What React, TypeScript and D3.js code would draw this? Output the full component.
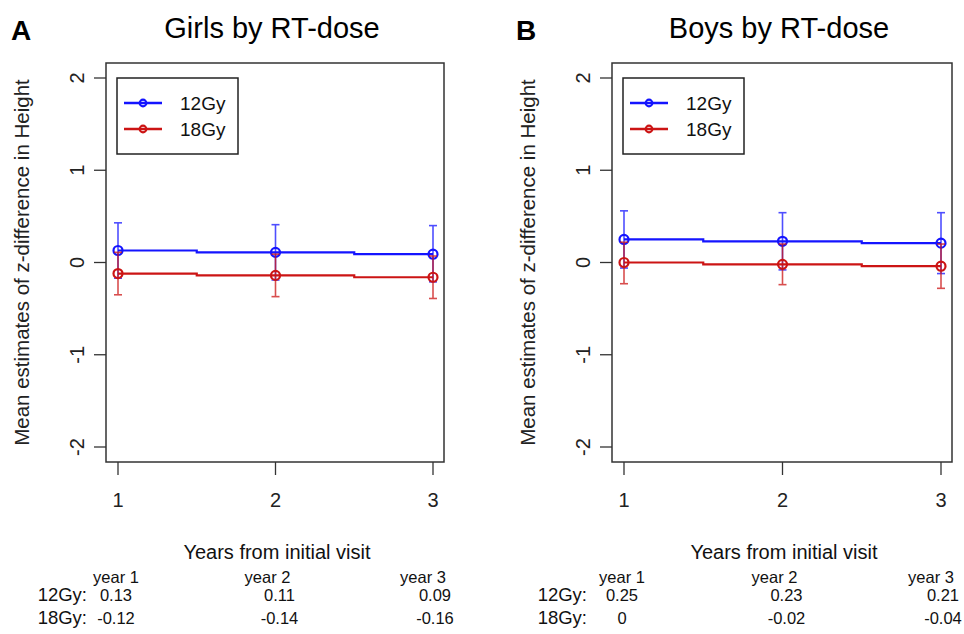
import React from "react";
import * as d3 from "d3";

// ---- data ----
const years = [1, 2, 3];
const yearLabels = ["year 1", "year 2", "year 3"];
const yTicks = [-2, -1, 0, 1, 2];
const seriesNames = ["12Gy", "18Gy"];

const girls12 = [0.13, 0.11, 0.09];
const girls12Lo = [-0.17, -0.19, -0.21];
const girls12Hi = [0.43, 0.41, 0.4];
const girls18 = [-0.12, -0.14, -0.16];
const girls18Lo = [-0.35, -0.37, -0.39];
const girls18Hi = [0.11, 0.09, 0.07];

const boys12 = [0.25, 0.23, 0.21];
const boys12Lo = [-0.06, -0.08, -0.12];
const boys12Hi = [0.56, 0.54, 0.54];
const boys18 = [0, -0.02, -0.04];
const boys18Lo = [-0.23, -0.24, -0.28];
const boys18Hi = [0.22, 0.2, 0.2];

const girlsTable12 = ["0.13", "0.11", "0.09"];
const girlsTable18 = ["-0.12", "-0.14", "-0.16"];
const boysTable12 = ["0.25", "0.23", "0.21"];
const boysTable18 = ["0", "-0.02", "-0.04"];

const BLUE = "#1414ff";
const RED = "#cc1414";
const FONT = "'Liberation Sans', Arial, sans-serif";

type Series = { name: string; color: string; mean: number[]; lo: number[]; hi: number[] };

function Panel(props: {
  ox: number;
  letter: string;
  title: string;
  series: Series[];
  table: string[][];
  boxLeft: number;
  boxRight: number;
  rowLabelRight: number;
}) {
  const { ox, letter, title, series, table, boxLeft, boxRight, rowLabelRight } = props;
  const top = 63;
  const bottom = 462;
  const x = d3.scaleLinear().domain([1, 3]).range([boxLeft + 12, boxRight - 11]);
  const y = d3.scaleLinear().domain([-2, 2]).range([447, 78]);
  const line = d3
    .line<number>()
    .x((_, i) => x(years[i]))
    .y((d) => y(d))
    .curve(d3.curveStep);
  const mid = (boxLeft + boxRight) / 2;
  const headOff = [-2, -8, -10];
  const valOff = [-2, 4, 2];

  return (
    <g transform={`translate(${ox},0)`} fontFamily={FONT}>
      <text x={11} y={40} fontSize={28} fontWeight="bold" fill="#000">
        {letter}
      </text>
      <text x={mid - 3} y={38} fontSize={29} textAnchor="middle" fill="#000">
        {title}
      </text>

      {/* y axis */}
      {yTicks.map((t) => (
        <g key={t}>
          <line x1={boxLeft - 12} x2={boxLeft} y1={y(t)} y2={y(t)} stroke="#333" strokeWidth={1.3} />
          <text
            transform={`translate(${boxLeft - 29},${y(t)}) rotate(-90)`}
            textAnchor="middle"
            dy="0.35em"
            fontSize={20}
            fill="#222"
          >
            {t}
          </text>
        </g>
      ))}
      <text
        transform={`translate(${boxLeft - 84},${(top + bottom) / 2}) rotate(-90)`}
        textAnchor="middle"
        dy="0.35em"
        fontSize={20.5}
        fill="#222"
      >
        Mean estimates of z-difference in Height
      </text>

      {/* x axis */}
      {years.map((v) => (
        <g key={v}>
          <line x1={x(v)} x2={x(v)} y1={bottom} y2={bottom + 13} stroke="#333" strokeWidth={1.3} />
          <text x={x(v)} y={507} textAnchor="middle" fontSize={20} fill="#222">
            {v}
          </text>
        </g>
      ))}
      <text x={mid + 2} y={559} textAnchor="middle" fontSize={20} fill="#111">
        Years from initial visit
      </text>

      {/* series */}
      {series.map((s) => (
        <g key={s.name}>
          <path d={line(s.mean) || ""} fill="none" stroke={s.color} strokeWidth={2.2} />
          {years.map((v, i) => (
            <g key={v} stroke={s.color} strokeWidth={1.6} opacity={0.75}>
              <line x1={x(v)} x2={x(v)} y1={y(s.lo[i])} y2={y(s.hi[i])} />
              <line x1={x(v) - 4} x2={x(v) + 4} y1={y(s.lo[i])} y2={y(s.lo[i])} />
              <line x1={x(v) - 4} x2={x(v) + 4} y1={y(s.hi[i])} y2={y(s.hi[i])} />
            </g>
          ))}
          {years.map((v, i) => (
            <circle key={v} cx={x(v)} cy={y(s.mean[i])} r={4.5} fill="none" stroke={s.color} strokeWidth={2.2} />
          ))}
        </g>
      ))}

      {/* box */}
      <rect x={boxLeft} y={top} width={boxRight - boxLeft} height={bottom - top} fill="none" stroke="#333" strokeWidth={1.5} />

      {/* legend */}
      <rect x={boxLeft + 11} y={78} width={121} height={76} fill="none" stroke="#222" strokeWidth={1.5} />
      {series.map((s, i) => (
        <g key={s.name}>
          <line x1={boxLeft + 18} x2={boxLeft + 56} y1={103 + i * 26} y2={103 + i * 26} stroke={s.color} strokeWidth={2.4} />
          <circle cx={boxLeft + 37} cy={103 + i * 26} r={3.3} fill="none" stroke={s.color} strokeWidth={2.2} />
          <text x={boxLeft + 74} y={103 + i * 26} dy="0.36em" fontSize={19} fill="#111">
            {s.name}
          </text>
        </g>
      ))}

      {/* table below */}
      {yearLabels.map((l, i) => (
        <text key={l} x={x(years[i]) + headOff[i]} y={583} textAnchor="middle" fontSize={16.5} fill="#111">
          {l}
        </text>
      ))}
      {table.map((row, r) => (
        <g key={r}>
          <text x={rowLabelRight} y={601 + r * 23} textAnchor="end" fontSize={18.5} fill="#111">
            {seriesNames[r] + ":"}
          </text>
          {row.map((v, i) => (
            <text key={i} x={x(years[i]) + valOff[i]} y={601 + r * 23} textAnchor="middle" fontSize={16.5} fill="#111">
              {v}
            </text>
          ))}
        </g>
      ))}
    </g>
  );
}

export default function App() {
  const girls: Series[] = [
    { name: seriesNames[0], color: BLUE, mean: girls12, lo: girls12Lo, hi: girls12Hi },
    { name: seriesNames[1], color: RED, mean: girls18, lo: girls18Lo, hi: girls18Hi },
  ];
  const boys: Series[] = [
    { name: seriesNames[0], color: BLUE, mean: boys12, lo: boys12Lo, hi: boys12Hi },
    { name: seriesNames[1], color: RED, mean: boys18, lo: boys18Lo, hi: boys18Hi },
  ];
  return (
    <svg
      width={964}
      height={634}
      style={{ position: "absolute", left: 0, top: 0, background: "#fff" }}
    >
      <rect width={964} height={634} fill="#fff" />
      <Panel
        ox={0}
        letter="A"
        title="Girls by RT-dose"
        series={girls}
        table={[girlsTable12, girlsTable18]}
        boxLeft={106}
        boxRight={444}
        rowLabelRight={87}
      />
      <Panel
        ox={505}
        letter="B"
        title="Boys by RT-dose"
        series={boys}
        table={[boysTable12, boysTable18]}
        boxLeft={107}
        boxRight={447}
        rowLabelRight={82}
      />
    </svg>
  );
}
